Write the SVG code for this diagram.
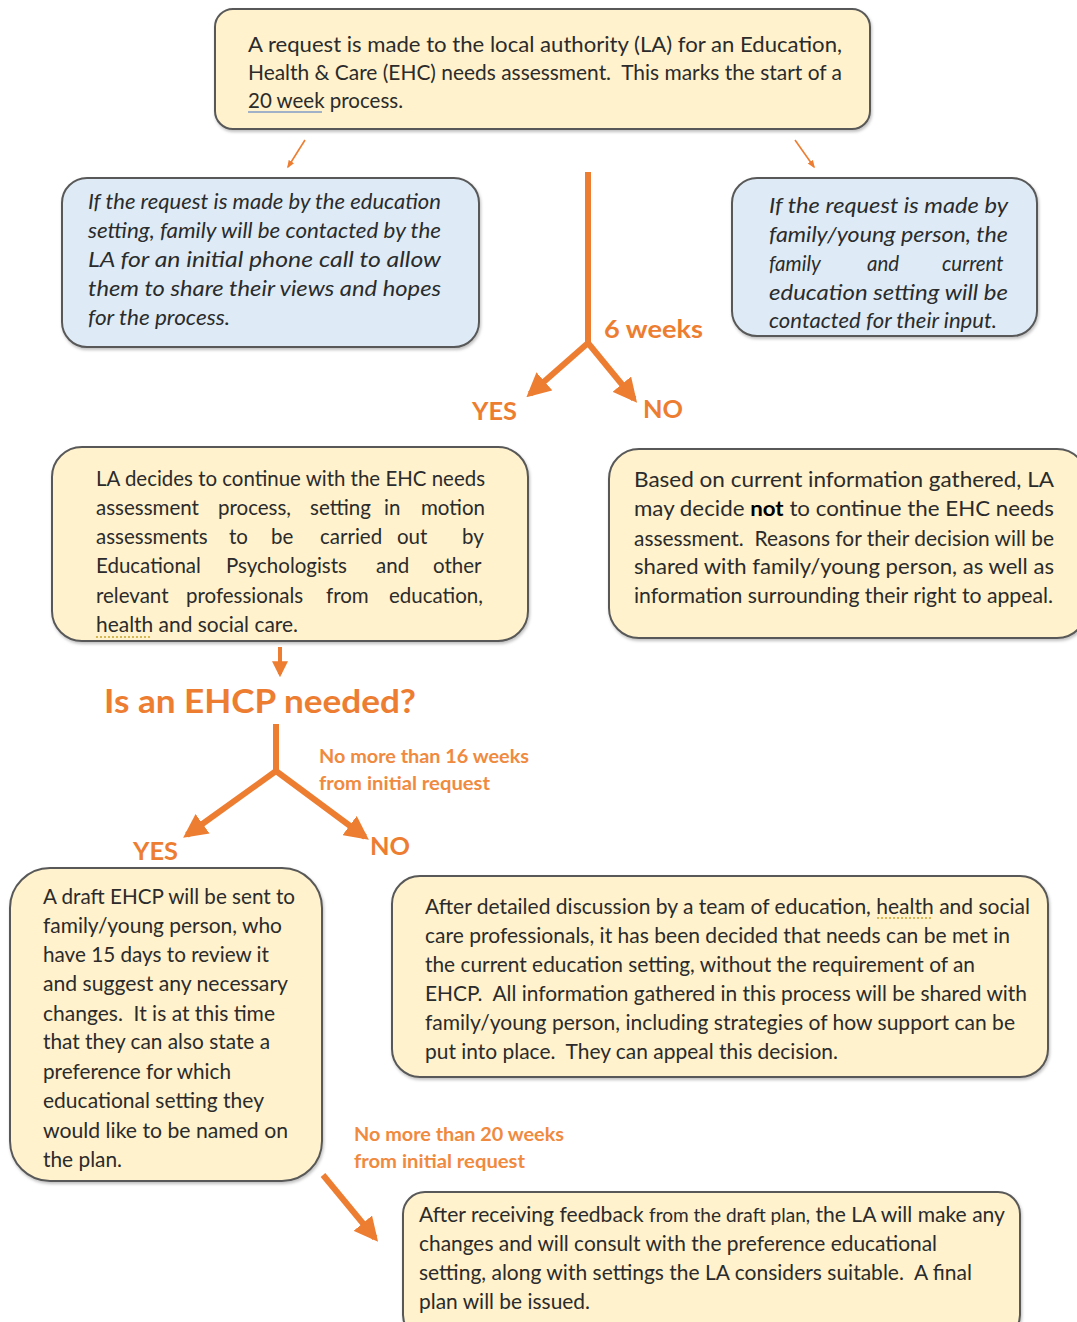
<svg xmlns="http://www.w3.org/2000/svg" width="1077" height="1322" viewBox="0 0 1077 1322">
<defs>
<style>
.box{stroke:#595959;stroke-width:2;filter:url(#sh)}
.cream{fill:#fff2cc}
.blue{fill:#deebf7}
.t{font-family:Lato,"Open Sans","Liberation Sans",sans-serif;font-size:20.5px;fill:#2b2b2b;white-space:pre}
.it{font-style:italic}
.o{font-family:Lato,"Open Sans","Liberation Sans",sans-serif;font-weight:bold;fill:#ed7d31}
.ol{font-family:Lato,"Open Sans","Liberation Sans",sans-serif;font-weight:bold;fill:#f08a3f;font-size:18px}
.thick{stroke:#ed7d31;stroke-width:6;fill:none}
.thin{stroke:#ed7d31;stroke-width:1.6;fill:none}
</style>
<filter id="sh" x="-5%" y="-5%" width="110%" height="115%">
<feDropShadow dx="1" dy="2" stdDeviation="1.5" flood-color="#000" flood-opacity="0.25"/>
</filter>
<marker id="ah" viewBox="0 0 10 10" refX="8" refY="5" markerWidth="4" markerHeight="4" orient="auto" markerUnits="strokeWidth">
<path d="M0,0 L10,5 L0,10 Z" fill="#ed7d31"/>
</marker>
<marker id="ahs" viewBox="0 0 10 10" refX="8" refY="5" markerWidth="5" markerHeight="5" orient="auto" markerUnits="strokeWidth">
<path d="M0,1 L10,5 L0,9 Z" fill="#ed7d31"/>
</marker>
</defs>
<rect width="1077" height="1322" fill="#ffffff"/>

<g id="connectors">
<line class="thin" x1="305" y1="140" x2="288" y2="167" marker-end="url(#ahs)"/>
<line class="thin" x1="795" y1="140" x2="814" y2="167" marker-end="url(#ahs)"/>
<path class="thick" d="M588,172 L588,343"/>
<line class="thick" x1="588" y1="343" x2="530" y2="394" marker-end="url(#ah)"/>
<line class="thick" x1="588" y1="343" x2="634" y2="399" marker-end="url(#ah)"/>
<line stroke="#ed7d31" stroke-width="4" x1="280" y1="647" x2="280" y2="674" marker-end="url(#ah)"/>
<path class="thick" d="M276,724 L276,771"/>
<line class="thick" x1="276" y1="771" x2="187" y2="835" marker-end="url(#ah)"/>
<line class="thick" x1="276" y1="771" x2="365" y2="837" marker-end="url(#ah)"/>
<line class="thick" x1="323" y1="1175" x2="375" y2="1238" marker-end="url(#ah)"/>
</g>

<g id="labels">
<text class="o" x="604" y="338" font-size="24" textLength="99" lengthAdjust="spacingAndGlyphs">6 weeks</text>
<text class="o" x="472" y="420" font-size="24" textLength="45" lengthAdjust="spacingAndGlyphs">YES</text>
<text class="o" x="643" y="418" font-size="24" textLength="40" lengthAdjust="spacingAndGlyphs">NO</text>
<text class="o" x="104" y="713" font-size="33" textLength="312" lengthAdjust="spacingAndGlyphs">Is an EHCP needed?</text>
<text class="ol" x="319" y="763" textLength="210" lengthAdjust="spacingAndGlyphs">No more than 16 weeks</text>
<text class="ol" x="319" y="790" textLength="171" lengthAdjust="spacingAndGlyphs">from initial request</text>
<text class="o" x="133" y="860" font-size="24" textLength="45" lengthAdjust="spacingAndGlyphs">YES</text>
<text class="o" x="370" y="855" font-size="24" textLength="40" lengthAdjust="spacingAndGlyphs">NO</text>
<text class="ol" x="354" y="1141" textLength="210" lengthAdjust="spacingAndGlyphs">No more than 20 weeks</text>
<text class="ol" x="354" y="1168" textLength="171" lengthAdjust="spacingAndGlyphs">from initial request</text>
</g>

<g id="request">
<rect class="box cream" x="215" y="9" width="655" height="120" rx="18"/>
<text class="t" x="248" y="52" textLength="594" lengthAdjust="spacingAndGlyphs">A request is made to the local authority (LA) for an Education,</text>
<text class="t" x="248" y="80" textLength="594" lengthAdjust="spacingAndGlyphs">Health &amp; Care (EHC) needs assessment.  This marks the start of a</text>
<text class="t" x="248" y="108" textLength="155" lengthAdjust="spacingAndGlyphs">20 week process.</text>
<line x1="248" y1="112" x2="322" y2="112" stroke="#4472c4" stroke-width="1.2"/>
</g>

<g id="education-setting">
<rect class="box blue" x="62" y="178" width="417" height="169" rx="25"/>
<text class="t it" x="88" y="209" textLength="353" lengthAdjust="spacingAndGlyphs">If the request is made by the education</text>
<text class="t it" x="88" y="238" textLength="353" lengthAdjust="spacingAndGlyphs">setting, family will be contacted by the</text>
<text class="t it" x="88" y="267" textLength="353" lengthAdjust="spacingAndGlyphs">LA for an initial phone call to allow</text>
<text class="t it" x="88" y="296" textLength="353" lengthAdjust="spacingAndGlyphs">them to share their views and hopes</text>
<text class="t it" x="88" y="325" textLength="142" lengthAdjust="spacingAndGlyphs">for the process.</text>
</g>

<g id="family-request">
<rect class="box blue" x="732" y="178" width="305" height="158" rx="25"/>
<text class="t it" x="769" y="213" textLength="239" lengthAdjust="spacingAndGlyphs">If the request is made by</text>
<text class="t it" x="769" y="242" textLength="239" lengthAdjust="spacingAndGlyphs">family/young person, the</text>
<text class="t it" y="271"><tspan x="769">family</tspan><tspan x="867">and</tspan><tspan x="942">current</tspan></text>
<text class="t it" x="769" y="300" textLength="239" lengthAdjust="spacingAndGlyphs">education setting will be</text>
<text class="t it" x="769" y="328" textLength="228" lengthAdjust="spacingAndGlyphs">contacted for their input.</text>
</g>

<g id="continue">
<rect class="box cream" x="52" y="447" width="476" height="194" rx="30"/>
<text class="t" x="96" y="486" textLength="389" lengthAdjust="spacingAndGlyphs">LA decides to continue with the EHC needs</text>
<text class="t" y="515"><tspan x="96">assessment</tspan><tspan x="218">process,</tspan><tspan x="310">setting</tspan><tspan x="384">in</tspan><tspan x="421">motion</tspan></text>
<text class="t" y="544"><tspan x="96">assessments</tspan><tspan x="229">to</tspan><tspan x="271">be</tspan><tspan x="320">carried</tspan><tspan x="397">out</tspan><tspan x="462">by</tspan></text>
<text class="t" y="573"><tspan x="96">Educational</tspan><tspan x="226">Psychologists</tspan><tspan x="376">and</tspan><tspan x="433">other</tspan></text>
<text class="t" y="603"><tspan x="96">relevant</tspan><tspan x="186">professionals</tspan><tspan x="326">from</tspan><tspan x="389">education,</tspan></text>
<text class="t" x="96" y="632" textLength="202" lengthAdjust="spacingAndGlyphs">health and social care.</text>
<line x1="96" y1="637" x2="152" y2="637" stroke="#c9a227" stroke-width="1.5" stroke-dasharray="2,2"/>
</g>

<g id="not-continue">
<rect class="box cream" x="609" y="449" width="478" height="189" rx="30"/>
<text class="t" x="634" y="487" textLength="420" lengthAdjust="spacingAndGlyphs">Based on current information gathered, LA</text>
<text class="t" x="634" y="516" textLength="420" lengthAdjust="spacingAndGlyphs">may decide <tspan font-weight="bold" fill="#000">not</tspan> to continue the EHC needs</text>
<text class="t" x="634" y="546" textLength="420" lengthAdjust="spacingAndGlyphs">assessment.  Reasons for their decision will be</text>
<text class="t" x="634" y="574" textLength="420" lengthAdjust="spacingAndGlyphs">shared with family/young person, as well as</text>
<text class="t" x="634" y="603" textLength="419" lengthAdjust="spacingAndGlyphs">information surrounding their right to appeal.</text>
</g>

<g id="draft-ehcp">
<rect class="box cream" x="10" y="868" width="312" height="313" rx="40"/>
<text class="t" x="43" y="904" textLength="252" lengthAdjust="spacingAndGlyphs">A draft EHCP will be sent to</text>
<text class="t" x="43" y="933" textLength="239" lengthAdjust="spacingAndGlyphs">family/young person, who</text>
<text class="t" x="43" y="962" textLength="226" lengthAdjust="spacingAndGlyphs">have 15 days to review it</text>
<text class="t" x="43" y="991" textLength="245" lengthAdjust="spacingAndGlyphs">and suggest any necessary</text>
<text class="t" x="43" y="1021" textLength="232" lengthAdjust="spacingAndGlyphs">changes.  It is at this time</text>
<text class="t" x="43" y="1049" textLength="227" lengthAdjust="spacingAndGlyphs">that they can also state a</text>
<text class="t" x="43" y="1079" textLength="188" lengthAdjust="spacingAndGlyphs">preference for which</text>
<text class="t" x="43" y="1108" textLength="221" lengthAdjust="spacingAndGlyphs">educational setting they</text>
<text class="t" x="43" y="1138" textLength="245" lengthAdjust="spacingAndGlyphs">would like to be named on</text>
<text class="t" x="43" y="1167" textLength="79" lengthAdjust="spacingAndGlyphs">the plan.</text>
</g>

<g id="no-ehcp">
<rect class="box cream" x="392" y="876" width="656" height="201" rx="28"/>
<text class="t" x="425" y="914" textLength="605" lengthAdjust="spacingAndGlyphs">After detailed discussion by a team of education, health and social</text>
<text class="t" x="425" y="943" textLength="585" lengthAdjust="spacingAndGlyphs">care professionals, it has been decided that needs can be met in</text>
<text class="t" x="425" y="972" textLength="550" lengthAdjust="spacingAndGlyphs">the current education setting, without the requirement of an</text>
<text class="t" x="425" y="1001" textLength="602" lengthAdjust="spacingAndGlyphs">EHCP.  All information gathered in this process will be shared with</text>
<text class="t" x="425" y="1030" textLength="590" lengthAdjust="spacingAndGlyphs">family/young person, including strategies of how support can be</text>
<text class="t" x="425" y="1059" textLength="413" lengthAdjust="spacingAndGlyphs">put into place.  They can appeal this decision.</text>
<line x1="877" y1="918" x2="933" y2="918" stroke="#c9a227" stroke-width="1.5" stroke-dasharray="2,2"/>
</g>

<g id="final-plan">
<rect class="box cream" x="403" y="1192" width="617" height="145" rx="22"/>
<text class="t" x="419" y="1222" textLength="586" lengthAdjust="spacingAndGlyphs">After receiving feedback <tspan font-size="18.5">from the draft plan,</tspan> the LA will make any</text>
<text class="t" x="419" y="1251" textLength="518" lengthAdjust="spacingAndGlyphs">changes and will consult with the preference educational</text>
<text class="t" x="419" y="1280" textLength="553" lengthAdjust="spacingAndGlyphs">setting, along with settings the LA considers suitable.  A final</text>
<text class="t" x="419" y="1309" textLength="171" lengthAdjust="spacingAndGlyphs">plan will be issued.</text>
</g>
</svg>
